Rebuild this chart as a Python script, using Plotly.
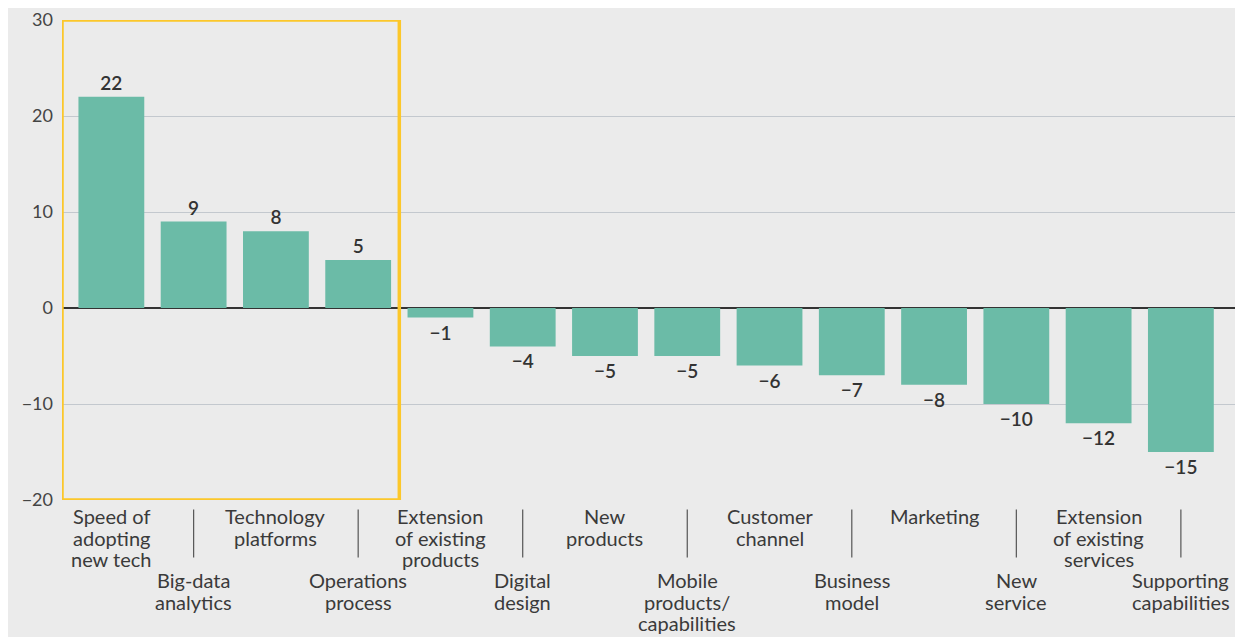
import plotly.graph_objects as go

categories = [
    "Speed of<br>adopting<br>new tech", "Big-data<br>analytics", "Technology<br>platforms",
    "Operations<br>process", "Extension<br>of existing<br>products", "Digital<br>design",
    "New<br>products", "Mobile<br>products/<br>capabilities", "Customer<br>channel",
    "Business<br>model", "Marketing", "New<br>service",
    "Extension<br>of existing<br>services", "Supporting<br>capabilities",
]
values = [22, 9, 8, 5, -1, -4, -5, -5, -6, -7, -8, -10, -12, -15]
y_ticks = [30, 20, 10, 0, -10, -20]

FONT = "Lato"
BG = "#ebebeb"
x = list(range(len(values)))
labels = [str(v).replace("-", "\u2212") for v in values]

fig = go.Figure(go.Bar(
    x=x, y=values, marker_color="#6bbba7", marker_line_width=0,
    text=labels, textposition="outside", cliponaxis=False,
    textfont=dict(family=FONT, size=19, color="#333333", weight=600),
))

# staggered category labels: even index on top row, odd index lower row
# (one annotation per line so the leading can be kept tight)
for i, cat in enumerate(categories):
    first = 16 if i % 2 == 0 else 80
    for k, line in enumerate(cat.split("<br>")):
        fig.add_annotation(
            x=i, xref="x", y=0, yref="paper", yshift=-(first + 21.7 * k),
            text=line, showarrow=False, yanchor="middle", xanchor="center",
            font=dict(family=FONT, size=20, color="#3a3a3a"),
        )
    if i % 2 == 1:
        fig.add_shape(type="line", xref="x", yref="paper", x0=i, x1=i,
                      y0=-0.02, y1=-0.12, line=dict(color="#555555", width=1.2))

# highlight box around the first four bars
fig.add_shape(type="rect", xref="x", yref="y", x0=-0.6, x1=3.5, y0=-20, y1=30,
              line=dict(color="#fcc72a", width=3.5), layer="above")

fig.update_layout(
    width=1235, height=629,
    margin=dict(l=54, r=7, t=12, b=137),
    paper_bgcolor=BG, plot_bgcolor=BG,
    bargap=0.2, showlegend=False,
    font=dict(family=FONT),
)
fig.update_xaxes(range=[-0.6, 13.67], showticklabels=False, showgrid=False,
                 zeroline=False, automargin=False)
fig.update_yaxes(
    range=[-20, 30], tickvals=y_ticks, showgrid=True, gridcolor="#c3c8ce", gridwidth=1,
    zeroline=True, zerolinecolor="#333333", zerolinewidth=1.5, automargin=False,
    tickfont=dict(family=FONT, size=18, color="#444444"), ticks="", ticklabelstandoff=8,
)

fig.write_html("out.html")
